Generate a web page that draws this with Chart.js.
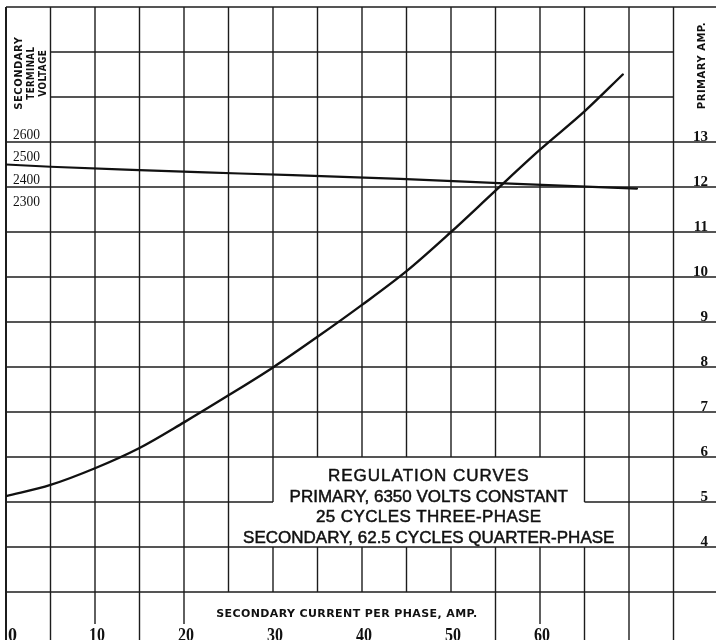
<!DOCTYPE html>
<html>
<head>
<meta charset="utf-8">
<script src="https://cdn.jsdelivr.net/npm/chart.js@4.4.1/dist/chart.umd.min.js"></script>
<style>
  html, body { margin: 0; padding: 0; background: #fff; }
  #wrap { width: 716px; height: 640px; }
</style>
</head>
<body>
<div id="wrap"><canvas id="reg-chart" width="716" height="640"></canvas></div>
<script>
// Secondary current per phase (amp) -> primary current (amp)
const currentX = [0, 5, 10, 15, 20, 25, 30, 35, 40, 45, 50, 55, 60, 65, 69.3];
const primaryAmp = [5.13, 5.38, 5.75, 6.2, 6.77, 7.37, 7.99, 8.67, 9.38, 10.13, 11.0, 11.92, 12.83, 13.68, 14.5];

// Secondary current per phase (amp) -> secondary terminal voltage
const voltX = [0, 5, 15, 26.3, 44.3, 56, 70.9];
const secondaryVolts = [2500, 2490, 2475, 2460, 2436, 2416, 2393];

// tick labels
const xTickLabels = [0, 10, 20, 30, 40, 50, 60];
const ampTickLabels = [4, 5, 6, 7, 8, 9, 10, 11, 12, 13];
const voltTickLabels = [2300, 2400, 2500, 2600];

// text block in the lower right
const boxLines = [
    'REGULATION CURVES',
    'PRIMARY, 6350 VOLTS CONSTANT',
    '25 CYCLES THREE-PHASE',
    'SECONDARY, 62.5 CYCLES QUARTER-PHASE'
];

// scale ranges (paper: 5 amp per square across, 1 amp / 200 volts per square up)
const ampMin = 16 - 633 / 45;
const ampMax = 16;
const xMax = 710 / 8.9;

const paperPlugin = {
    id: 'paper',
    beforeDatasetsDraw(chart) {
        const { ctx, scales: { x, y } } = chart;
        const X = v => x.getPixelForValue(v);
        const Y = v => y.getPixelForValue(v);
        const seg = (x0, y0, x1, y1) => {
            ctx.beginPath();
            ctx.moveTo(x0, y0);
            ctx.lineTo(x1, y1);
            ctx.stroke();
        };
        ctx.save();
        ctx.strokeStyle = '#1c1c1c';
        ctx.lineWidth = 1.4;

        // vertical rules, every 5 amp
        for (let v = 5; v <= 75; v += 5) {
            const cuts = [];
            if (v > 30 && v < 65) cuts.push([6, 5]);
            if (v > 25 && v < 70) cuts.push([5, 4]);
            if (v >= 25 && v <= 50) cuts.push([3, ampMin]);
            else if (v === 10 || v === 20 || v === 60) cuts.push([2.29, ampMin]);
            let from = ampMax;
            cuts.forEach(([hi, lo]) => {
                if (hi < from) seg(X(v), Y(from), X(v), Y(hi));
                from = lo;
            });
            if (from > ampMin) seg(X(v), Y(from), X(v), Y(ampMin));
        }

        // horizontal rules, every 1 amp
        for (let h = 3; h <= 15; h++) {
            const x0 = h >= 14 ? 5 : 0;
            const x1 = h >= 14 ? 75 : xMax;
            if (h === 5) {
                seg(X(x0), Y(h), X(30), Y(h));
                seg(X(65), Y(h), X(x1), Y(h));
            } else {
                seg(X(x0), Y(h), X(x1), Y(h));
            }
        }

        // border
        ctx.lineWidth = 1.7;
        seg(X(0), Y(ampMax), X(xMax), Y(ampMax));
        ctx.lineWidth = 2;
        seg(X(0), Y(ampMax), X(0), Y(ampMin));
        ctx.restore();
    },
    afterDatasetsDraw(chart) {
        const { ctx, scales: { x, y, yV } } = chart;
        const X = v => x.getPixelForValue(v);
        const Y = v => y.getPixelForValue(v);
        ctx.save();
        ctx.fillStyle = '#111';

        // x tick labels
        ctx.font = 'bold 18px "Liberation Serif"';
        ctx.textBaseline = 'alphabetic';
        xTickLabels.forEach(v => {
            ctx.textAlign = v === 0 ? 'left' : 'center';
            ctx.fillText(String(v), X(v) + 2, Y(ampMin) + 1, 16);
        });

        // primary amp labels (right)
        ctx.font = 'bold 15px "Liberation Serif"';
        ctx.textAlign = 'right';
        ampTickLabels.forEach(v => {
            ctx.fillText(String(v), X(xMax) - 8, Y(v) - 1.5);
        });

        // secondary volt labels (left)
        ctx.font = '15px "Liberation Serif"';
        ctx.textAlign = 'left';
        voltTickLabels.forEach(v => {
            ctx.fillText(String(v), X(0) + 7, yV.getPixelForValue(v) - 3.5, 27);
        });

        // axis titles
        ctx.font = 'bold 10px "DejaVu Sans"';
        ctx.letterSpacing = '0.5px';
        ctx.textAlign = 'center';
        ctx.textBaseline = 'middle';
        const leftTitle = [['SECONDARY', 1.46, 73], ['TERMINAL', 2.81, 53], ['VOLTAGE', 4.16, 47]];
        leftTitle.forEach(([t, xv, w]) => {
            ctx.save();
            ctx.translate(X(xv), Y(14.53));
            ctx.rotate(-Math.PI / 2);
            ctx.fillText(t, 0, 0, w);
            ctx.restore();
        });
        ctx.save();
        ctx.translate(X(78.26), Y(14.7));
        ctx.rotate(-Math.PI / 2);
        ctx.fillText('PRIMARY AMP.', 0, 0, 88);
        ctx.restore();

        ctx.font = 'bold 11px "DejaVu Sans"';
        ctx.letterSpacing = '0.4px';
        ctx.fillText('SECONDARY CURRENT PER PHASE, AMP.', X(38.3), Y(2.51), 262);

        // text block (a thin stroke gives the heavier printed look)
        ctx.font = '17px "Liberation Sans"';
        ctx.textBaseline = 'alphabetic';
        ctx.strokeStyle = '#111';
        ctx.lineWidth = 0.5;
        const spacing = ['1px', '0px', '0.4px', '0px'];
        const widths = [202, 283, 227, 374];
        const levels = [5.47, 5.0, 4.56, 4.09];
        boxLines.forEach((t, i) => {
            ctx.letterSpacing = spacing[i];
            ctx.fillText(t, X(47.5), Y(levels[i]), widths[i]);
            ctx.strokeText(t, X(47.5), Y(levels[i]), widths[i]);
        });
        ctx.restore();
    }
};

const ctx = document.getElementById('reg-chart').getContext('2d');
const regChart = new Chart(ctx, {
    type: 'line',
    data: {
        datasets: [
            {
                label: 'Primary amp.',
                data: currentX.map((v, i) => ({ x: v, y: primaryAmp[i] })),
                yAxisID: 'y',
                borderColor: '#111',
                borderWidth: 2.4,
                borderCapStyle: 'round',
                pointRadius: 0,
                cubicInterpolationMode: 'monotone',
                fill: false
            },
            {
                label: 'Secondary terminal voltage',
                data: voltX.map((v, i) => ({ x: v, y: secondaryVolts[i] })),
                yAxisID: 'yV',
                borderColor: '#111',
                borderWidth: 2.2,
                borderCapStyle: 'round',
                pointRadius: 0,
                cubicInterpolationMode: 'monotone',
                fill: false
            }
        ]
    },
    options: {
        responsive: false,
        animation: false,
        events: [],
        layout: { padding: { left: 6, top: 7, right: 0, bottom: 0 } },
        plugins: { legend: { display: false }, tooltip: { enabled: false } },
        scales: {
            x: { type: 'linear', min: 0, max: xMax, display: false },
            y: { type: 'linear', min: ampMin, max: ampMax, display: false },
            yV: {
                type: 'linear',
                min: 2600 + (ampMin - 13) * 200,
                max: 2600 + (ampMax - 13) * 200,
                display: false
            }
        }
    },
    plugins: [paperPlugin]
});
</script>
</body>
</html>
